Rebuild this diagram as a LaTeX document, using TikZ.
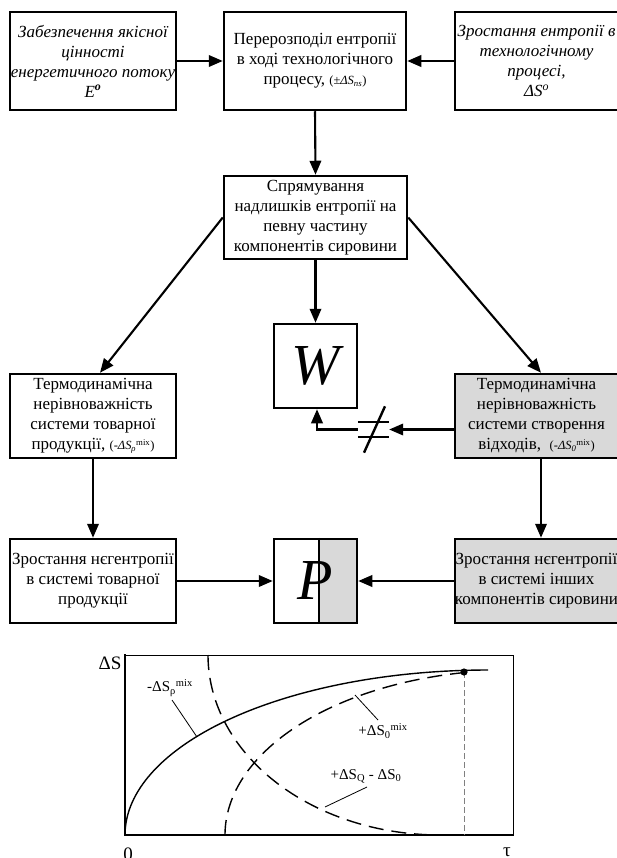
\documentclass[tikz,border=0pt]{standalone}
\usepackage{fontspec}
\setmainfont{Liberation Serif}
\usetikzlibrary{arrows.meta,calc}
\definecolor{boxgray}{HTML}{D9D9D9}
\newcommand{\mysmall}{\fontsize{12.5}{14}\selectfont}
\begin{document}
\begin{tikzpicture}[x=1pt,y=-1pt,
  box/.style={draw, line width=2.5pt, inner sep=0pt, align=center, font=\fontsize{17}{20}\selectfont},
  topbox/.style={box, minimum height=98pt},
  midbox/.style={box, minimum height=84pt},
  shaded/.style={fill=boxgray},
  bigletter/.style={box, minimum width=83pt, minimum height=84pt, font=\fontsize{58}{58}\selectfont\itshape},
  arr/.style={line width=2.1pt, -{Triangle[length=14pt,width=11.5pt]}},
  gcurve/.style={line width=1.4pt},
  gdash/.style={line width=1.4pt, dash pattern=on 15pt off 8pt},
  leader/.style={line width=0.8pt},
  glabel/.style={inner sep=0pt, font=\fontsize{15}{17}\selectfont},
  axlabel/.style={inner sep=0pt, font=\fontsize{19}{21}\selectfont}
]
\useasboundingbox (0,0) rectangle (616,858);

% top row
\node[topbox, minimum width=166pt, font=\fontsize{17}{20}\selectfont\itshape] (tl) at (93,61)
  {Забезпечення якісної\\цінності\\енергетичного потоку\\E\textsuperscript{\textbf{o}}};
\node[topbox, minimum width=182pt] (tm) at (315,61)
  {Перерозподіл ентропії\\в ході технологічного\\процесу, {\mysmall(±\textit{ΔS}\textsubscript{\textit{ns}})}};
\node[topbox, minimum width=163pt, font=\fontsize{17}{20}\selectfont\itshape] (tr) at (536.5,61)
  {Зростання ентропії в\\технологічному\\процесі,\\ΔS\textsuperscript{o}};

% second row
\node[box, minimum width=183pt, minimum height=83pt] (mid) at (315.5,217.5)
  {Спрямування\\надлишків ентропії на\\певну частину\\компонентів сировини};

% W
\node[bigletter] (W) at (315.5,366) {W};

% middle row
\node[midbox, minimum width=166pt] (ml) at (93,416)
  {Термодинамічна\\нерівноважність\\системи товарної\\продукції, {\mysmall(-\textit{ΔS}\textsubscript{\textit{ρ}}\textsuperscript{mix})}};
\node[midbox, shaded, minimum width=163pt] (mr) at (536.5,416)
  {Термодинамічна\\нерівноважність\\системи створення\\відходів,\ \ {\mysmall(-\textit{ΔS}\textsubscript{\textit{0}}\textsuperscript{mix})}};

% not-equal sign
\node[minimum width=31pt, minimum height=46pt, inner sep=0pt] (ne) at (373.5,429.5) {};
\draw[line width=2.4pt] ($(ne.west)+(0,-7.5)$) -- ($(ne.east)+(0,-7.5)$);
\draw[line width=2.4pt] ($(ne.west)+(0,7.5)$) -- ($(ne.east)+(0,7.5)$);
\draw[line width=2.4pt] ($(ne.south)+(-9.5,0)$) -- ($(ne.north)+(11.5,0)$);

% bottom row
\node[midbox, minimum width=166pt] (bl) at (93,581)
  {Зростання нєгентропії\\в системі товарної\\продукції};
\node[bigletter] (P) at (315.5,581) {};
\fill[boxgray] ($(P.north)+(3.5,1.2)$) rectangle ($(P.south east)+(-1.2,-1.2)$);
\draw[line width=2.2pt] ($(P.north)+(3.5,0)$) -- ($(P.south)+(3.5,0)$);
\node[bigletter] at (P) {P};
\node[midbox, shaded, minimum width=163pt] (br) at (536.5,581)
  {Зростання нєгентропії\\в системі інших\\компонентів сировини};

% connectors
\draw[arr] (tl.east) -- (tm.west);
\draw[arr] (tr.west) -- (tm.east);
\draw[arr] (tm.south) -- (mid.north);
\draw[arr] (mid.west) -- ($(ml.north)+(7,0)$);
\draw[arr] (mid.east) -- ($(mr.north)+(4.5,0)$);
\draw[arr] (mid.south) -- (W.north);
\draw[arr] (mr.west |- ne) -- (ne.east);
\draw[arr] (ne.west) -| ($(W.south)+(1.5,0)$);
\draw[arr] (ml.south) -- (bl.north);
\draw[arr] ($(mr.south)+(4.5,0)$) -- ($(br.north)+(4.5,0)$);
\draw[arr] (bl.east) -- (P.west);
\draw[arr] (br.west) -- (P.east);

% graph
\draw[line width=1pt] (125,655) -- (513,655) -- (513,835);
\draw[line width=2pt] (125,654) -- (125,835) -- (514,835);
\draw[gcurve] plot[domain=180:270, samples=80, variable=\t] ({488+363*cos(\t)}, {835+165*sin(\t)});
\draw[gdash] plot[domain=180:260, samples=80, variable=\t] ({515+290*cos(\t)}, {835+165*sin(\t)});
\draw[gdash] plot[domain=0:90, samples=80, variable=\t] ({440-232*cos(\t)}, {655+180*sin(\t)});
\draw[line width=1pt, gray, dash pattern=on 6pt off 3pt] (464,672) -- (464,835);
\fill (464,672) circle (3.6pt);

\draw[leader] (172,700) -- (197,737);
\draw[leader] (355,695) -- (378,720);
\draw[leader] (367,787) -- (325,807);

\node[glabel] (lp) at (170,688) {-ΔS\textsubscript{ρ}\textsuperscript{mix}};
\node[glabel] (lo) at (383,731) {+ΔS\textsubscript{0}\textsuperscript{mix}};
\node[glabel] (lq) at (366,776) {+ΔS\textsubscript{Q} - ΔS\textsubscript{0}};

\node[axlabel] (ds) at (110,663) {ΔS};
\node[axlabel, anchor=north] (zero) at (128,848) {0};
\node[axlabel, anchor=north] (tau) at (507,848) {τ};
\end{tikzpicture}
\end{document}
